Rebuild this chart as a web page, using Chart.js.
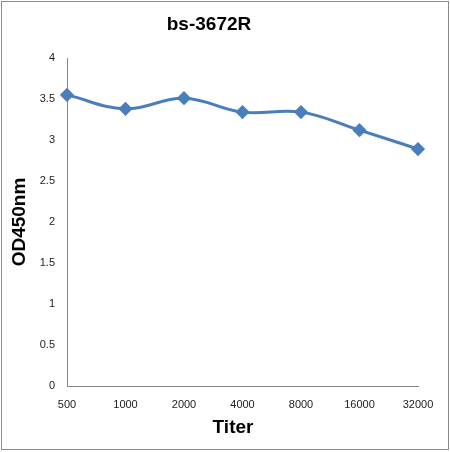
<!DOCTYPE html>
<html lang="en">
  <head>
    <meta charset="UTF-8" />
    <title>bs-3672R</title>
    <style>
      html, body { margin: 0; padding: 0; background: #fff; }
      canvas { display: block; }
    </style>
  </head>
  <body>
    <canvas id="myChart" width="450" height="452"></canvas>
    <script src="https://cdn.jsdelivr.net/npm/chart.js"></script>
    <script>
      const titers = ["500", "1000", "2000", "4000", "8000", "16000", "32000"];
      const od450 = [3.55, 3.38, 3.51, 3.34, 3.34, 3.12, 2.89];
      const yTicks = [0, 0.5, 1, 1.5, 2, 2.5, 3, 3.5, 4];

      const fontName = "'Liberation Sans', Arial, sans-serif";

      // white background + thin grey frame like the original picture
      const frame = {
        id: "frame",
        beforeDraw(chart) {
          const c = chart.ctx;
          c.save();
          c.fillStyle = "#fff";
          c.fillRect(0, 0, chart.width, chart.height);
          c.strokeStyle = "#8c8c8c";
          c.lineWidth = 1;
          c.strokeRect(1.5, 1.5, 447, 448);
          c.restore();
        },
        afterDraw(chart) {
          const c = chart.ctx;
          c.save();
          c.font = "bold 19px " + fontName;
          c.fillStyle = "#000";
          c.textAlign = "center";
          c.textBaseline = "middle";
          c.fillText("Titer", 233, 428);
          c.restore();
        }
      };

      new Chart(document.getElementById("myChart"), {
        type: "line",
        data: {
          labels: titers,
          datasets: [
            {
              data: od450,
              borderColor: "#4a7ebb",
              backgroundColor: "#4a7ebb",
              borderWidth: 3,
              tension: 0.4,
              pointStyle: "rectRot",
              pointRadius: 5,
              pointHoverRadius: 5
            }
          ]
        },
        options: {
          responsive: false,
          animation: false,
          layout: { padding: { left: 0, right: 32, top: 0, bottom: 0 } },
          plugins: {
            legend: { display: false },
            tooltip: { enabled: false },
            title: {
              display: true,
              text: "bs-3672R",
              color: "#000",
              font: { family: fontName, size: 19, weight: "bold" },
              padding: { top: 13.6, bottom: 21.6 }
            }
          },
          scales: {
            x: {
              offset: false,
              grid: { display: false, drawTicks: false },
              border: { display: true, color: "#868686", width: 1 },
              ticks: {
                color: "#222",
                padding: 12,
                maxRotation: 0,
                autoSkip: false,
                font: { family: fontName, size: 11 }
              },
              afterFit(scale) {
                scale.height = 66;
              }
            },
            y: {
              min: 0,
              max: 4,
              afterBuildTicks(scale) {
                scale.ticks = yTicks.map(v => ({ value: v }));
              },
              grid: { display: false, drawTicks: false },
              border: { display: true, color: "#868686", width: 1 },
              ticks: {
                color: "#222",
                padding: 12,
                font: { family: fontName, size: 11 },
                callback: v => String(v)
              },
              title: {
                display: true,
                text: "OD450nm",
                color: "#000",
                font: { family: fontName, size: 19, weight: "bold" },
                padding: { top: 8.6, bottom: 0 }
              },
              afterFit(scale) {
                scale.width = 67;
              }
            }
          }
        },
        plugins: [frame]
      });
    </script>
  </body>
</html>
